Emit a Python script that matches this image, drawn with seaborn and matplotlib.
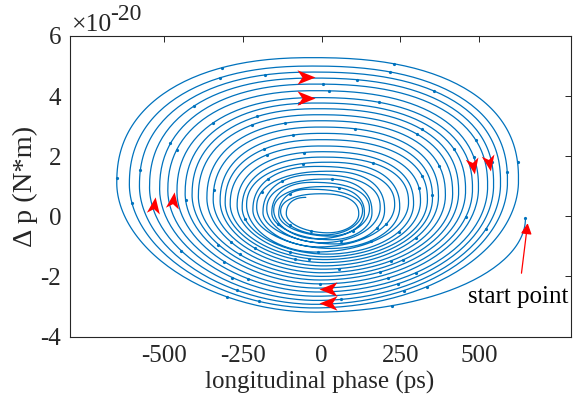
import numpy as np
import pandas as pd
import matplotlib
matplotlib.use("Agg")
import matplotlib.pyplot as plt
from matplotlib.path import Path
import seaborn as sns

# ---------------- data (y in units of 1e-20 N*m) -------------
# extreme points of each turn of the spiral (clockwise: right -> bottom -> left -> top)
right_x  = [647, 625, 590, 568, 546, 527, 498, 479, 457, 435, 416, 393, 371, 352,
            336, 314, 292, 276, 248, 232, 200, 186, 160, 152, 136, 130, 118]
right_y  = [-0.07, 1.20, 1.15, 1.10, 1.05, 1.00, 0.95, 0.90, 0.85, 0.80, 0.75, 0.70,
            0.65, 0.60, 0.55, 0.50, 0.42, 0.46, 0.30, 0.38, 0.20, 0.30, 0.12, 0.24,
            0.10, 0.18, 0.08]
bottom_x = [-20, -25, -20, -15, -15, -10, -10, -5, -5, 0, 0, 5, 5, 10, 10, 10, 15,
            -20, 30, -10, 40, 0, 30, -15, 25, 10, 20]
bottom_y = [-3.19, -3.05, -2.93, -2.80, -2.66, -2.52, -2.39, -2.25, -2.12, -2.00,
            -1.88, -1.76, -1.65, -1.54, -1.44, -1.35, -1.26, -1.19, -1.07, -1.02,
            -0.92, -0.88, -0.78, -0.75, -0.66, -0.62, -0.55]
left_x   = [-650, -610, -578, -546, -514, -488, -459, -433, -411, -391, -364, -344,
            -322, -306, -290, -268, -252, -238, -218, -206, -186, -174, -158, -152,
            -136, -130, -112]
left_y   = [1.10, 1.05, 1.00, 0.95, 0.90, 0.85, 0.80, 0.75, 0.70, 0.65, 0.60, 0.55,
            0.50, 0.45, 0.40, 0.36, 0.28, 0.36, 0.20, 0.30, 0.12, 0.24, 0.10, 0.20,
            0.06, 0.16, 0.08]
top_x    = [-30, -30, -25, -25, -20, -20, -15, -15, -10, -10, -5, -5, 0, 0, 0, 5, 5,
            20, -15, 25, -20, 15, -30, 10, -40, 0, -50]
top_y    = [5.28, 5.00, 4.80, 4.60, 4.40, 4.18, 3.95, 3.77, 3.58, 3.38, 3.18, 2.97,
            2.76, 2.55, 2.34, 2.15, 1.97, 1.80, 1.66, 1.50, 1.39, 1.24, 1.13, 0.99,
            0.90, 0.75, 0.63]

# direction arrows on the trajectory
arrow_x     = [-50, -50, 479, 530, -533, -470, 20, 20]
arrow_y     = [4.65, 3.95, 1.66, 1.79, 0.37, 0.53, -2.43, -2.89]
arrow_angle = [0, 0, -80, -80, 82, 82, 180, 180]

start_point = (654, -0.23)
start_text = (625, -2.69)

x_ticks = [-500, -250, 0, 250, 500]
y_ticks = [-4, -2, 0, 2, 4, 6]

# ---------------- build the smooth trajectory through the extreme points -------------
keys = []
for k in range(len(right_x)):
    keys.append(("x", right_x[k], right_y[k]))
    keys.append(("y", bottom_x[k], bottom_y[k]))
    keys.append(("x", left_x[k], left_y[k]))
    keys.append(("y", top_x[k], top_y[k]))

xs, ys = [], []
t = np.linspace(0, np.pi / 2, 60)
for i in range(len(keys) - 1):
    ka, xa, ya = keys[i]
    kb, xb, yb = keys[i + 1]
    q = i % 4
    e = {0: 1.0, 1: 1.05, 2: 0.88, 3: 0.85}[q]
    c = np.cos(t) ** e
    s = np.sin(t) ** e
    if ka == "x":
        px = xb + (xa - xb) * c
        py = ya + (yb - ya) * s
    else:
        px = xa + (xb - xa) * s
        py = yb + (ya - yb) * c
    if i > 0:
        px, py = px[1:], py[1:]
    xs.extend(px)
    ys.extend(py)

df = pd.DataFrame({"phase": xs, "dp": ys})

# ---------------- plotting -------------
sns.set_style("white")
plt.rcParams["font.family"] = ["Liberation Serif", "DejaVu Serif"]
plt.rcParams["axes.unicode_minus"] = False

fig = plt.figure(figsize=(5.73, 4.09), dpi=100)
ax = fig.add_axes([69.5 / 573, 1 - 336.5 / 409, 501 / 573, 300.5 / 409])

blue = "#0072BD"
sns.lineplot(data=df, x="phase", y="dp", sort=False, estimator=None, ax=ax,
             color=blue, lw=0.9, marker="o", markersize=2.3,
             markeredgewidth=0, markevery=0.29)

# arrow heads
base = np.array([[1.0, 0.0], [-1.0, 0.8], [-0.45, 0.0], [-1.0, -0.8], [1.0, 0.0]])
for ax_, ay_, ang in zip(arrow_x, arrow_y, arrow_angle):
    r = np.deg2rad(ang)
    rot = np.array([[np.cos(r), -np.sin(r)], [np.sin(r), np.cos(r)]])
    verts = base @ rot.T
    mk = Path(verts, [Path.MOVETO, Path.LINETO, Path.LINETO, Path.LINETO, Path.CLOSEPOLY])
    ax.plot([ax_], [ay_], marker=mk, markersize=13, color="red",
            markeredgewidth=0, linestyle="none", zorder=5)

ax.annotate("start point", xy=start_point, xytext=start_text,
            ha="center", va="center", fontsize=18, color="black",
            arrowprops=dict(arrowstyle="-|>", color="red", lw=0.9,
                            mutation_scale=16, shrinkA=7, shrinkB=0))

ax.set_xlim(-800, 790)
ax.set_ylim(-4, 6)
ax.set_xticks(x_ticks)
ax.set_xticklabels([str(v) for v in x_ticks])
ax.set_yticks(y_ticks)
ax.set_yticklabels([str(v) for v in y_ticks])
ax.tick_params(direction="in", top=True, right=True, length=4, width=0.7,
               labelsize=18, colors="#262626", pad=6)
for sp in ax.spines.values():
    sp.set_color("#262626")
    sp.set_linewidth(0.8)

ax.set_xlabel("longitudinal phase (ps)", fontsize=18, color="#262626", labelpad=3)
ax.set_ylabel("Δ p (N*m)", fontsize=20.5, color="#262626", labelpad=2)

fig.text(72 / 573, 1 - 31 / 409, "×10", fontsize=18.5, color="#262626",
         ha="left", va="baseline")
fig.text(110 / 573, 1 - 20 / 409, "-20", fontsize=17, color="#262626",
         ha="left", va="baseline")

fig.savefig("out.png", dpi=100)
